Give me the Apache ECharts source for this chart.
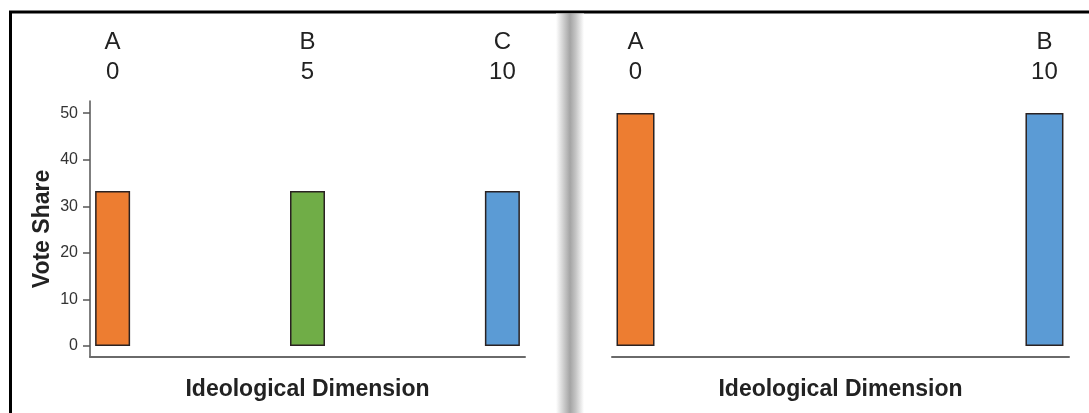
<!DOCTYPE html>
<html>
<head>
<meta charset="utf-8">
<style>
html,body{margin:0;padding:0;background:#fff;}
#chart{width:1089px;height:413px;}
</style>
<script src="https://cdn.jsdelivr.net/npm/echarts@6/dist/echarts.min.js"></script>
</head>
<body>
<div id="chart"></div>
<script>
// ---- data ----
const leftParties = ['A', 'B', 'C'];
const leftPositions = [0, 5, 10];
const leftShares = [33.3, 33.3, 33.3];
const rightParties = ['A', 'B'];
const rightPositions = [0, 10];
const rightShares = [50, 50];
const yTicks = [0, 10, 20, 30, 40, 50];
const xTitle = 'Ideological Dimension';
const yTitle = 'Vote Share';

// ---- styles ----
const partyColors = { A: '#ED7D31', B: '#70AD47', C: '#5B9BD5' };
const rightColors = { A: '#ED7D31', B: '#5B9BD5' };
const FONT = '"Liberation Sans", Arial, sans-serif';

const chart = echarts.init(document.getElementById('chart'), null, { renderer: 'canvas' });

function topAxis(gridIndex, parties, positions, min, max) {
  return {
    type: 'value', gridIndex, position: 'top', min, max,
    splitLine: { show: false }, axisLine: { show: false }, axisTick: { show: false },
    axisLabel: {
      customValues: positions,
      margin: 14,
      fontFamily: FONT, fontSize: 24, color: '#222', lineHeight: 30,
      formatter: v => { const i = positions.indexOf(v); return i < 0 ? '' : parties[i] + '\n' + v; }
    }
  };
}
function bottomAxis(gridIndex, min, max) {
  return {
    type: 'value', gridIndex, position: 'bottom', min, max,
    name: xTitle, nameLocation: 'middle', nameGap: 21,
    nameTextStyle: { fontFamily: FONT, fontSize: 23, fontWeight: 'bold', color: '#222' },
    splitLine: { show: false },
    axisLine: { show: true, onZero: false, lineStyle: { color: '#6a6a6a', width: 2 } },
    axisTick: { show: false }, axisLabel: { show: false }
  };
}
function barData(parties, positions, shares, colors) {
  return positions.map((p, i) => ({
    value: [p, shares[i]],
    itemStyle: { color: colors[parties[i]], borderColor: '#2a2222', borderWidth: 1.5 }
  }));
}

const yMin = -2.36, yMax = 52.6;

chart.setOption({
  animation: false,
  backgroundColor: '#fff',
  graphic: [
    { type: 'rect', shape: { x: 10.5, y: 12, width: 1200, height: 600 },
      style: { fill: 'none', stroke: '#000', lineWidth: 3 }, z: 0 },
    { type: 'rect', shape: { x: 556, y: 13.5, width: 28, height: 420 },
      style: { fill: new echarts.graphic.LinearGradient(0, 0, 1, 0, [
        { offset: 0, color: '#ffffff' },
        { offset: 0.3, color: '#c8c8c8' },
        { offset: 0.5, color: '#a4a4a4' },
        { offset: 0.7, color: '#c4c4c4' },
        { offset: 1, color: '#ffffff' }
      ]) }, z: 0 }
  ],
  grid: [
    { left: 90, right: 1089 - 525, top: 101, bottom: 413 - 357, containLabel: false },
    { left: 612, right: 1089 - 1069, top: 101, bottom: 413 - 357, containLabel: false }
  ],
  xAxis: [
    bottomAxis(0, -0.58, 10.58),
    topAxis(0, leftParties, leftPositions, -0.58, 10.58),
    bottomAxis(1, -0.575, 10.6),
    topAxis(1, rightParties, rightPositions, -0.575, 10.6)
  ],
  yAxis: [
    {
      type: 'value', gridIndex: 0, min: yMin, max: yMax,
      name: yTitle, nameLocation: 'middle', nameGap: 36, nameRotate: 90,
      nameTextStyle: { fontFamily: FONT, fontSize: 23, fontWeight: 'bold', color: '#222' },
      splitLine: { show: false },
      axisLine: { show: true, onZero: false, lineStyle: { color: '#555', width: 1.5 } },
      axisTick: { show: true, length: 7, customValues: yTicks, lineStyle: { color: '#555', width: 1.5 } },
      axisLabel: { customValues: yTicks, margin: 12, fontFamily: FONT, fontSize: 16, color: '#333' }
    },
    {
      type: 'value', gridIndex: 1, min: yMin, max: yMax, show: false,
      splitLine: { show: false }
    }
  ],
  series: [
    { type: 'bar', xAxisIndex: 0, yAxisIndex: 0, barWidth: 35,
      data: barData(leftParties, leftPositions, leftShares, partyColors) },
    { type: 'bar', xAxisIndex: 2, yAxisIndex: 1, barWidth: 38,
      data: barData(rightParties, rightPositions, rightShares, rightColors) }
  ]
});
</script>
</body>
</html>
